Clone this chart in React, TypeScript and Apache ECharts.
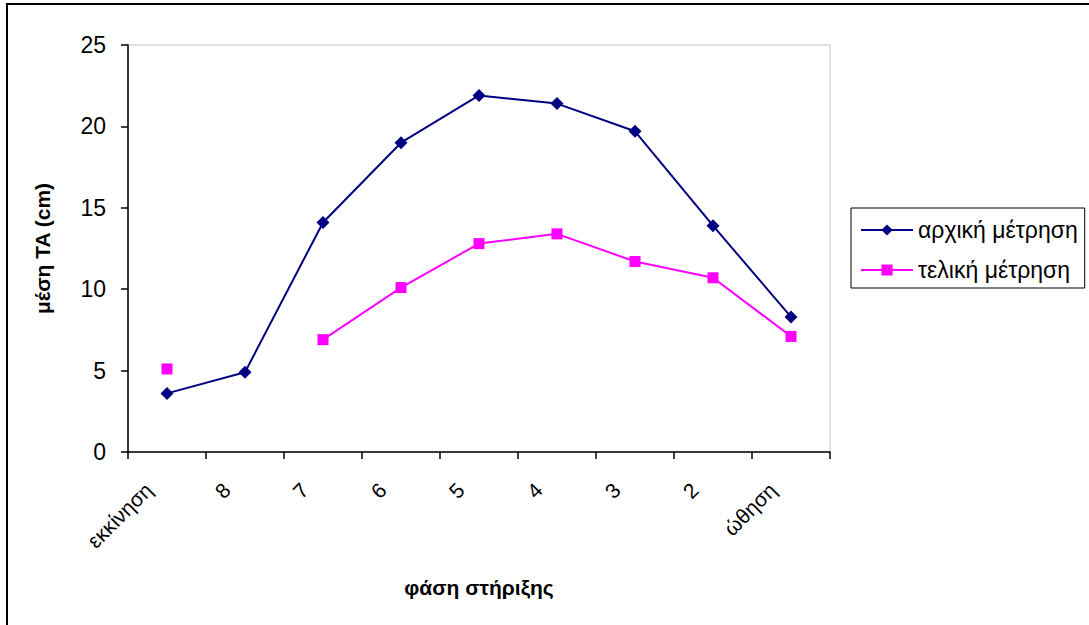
import React, { useEffect, useRef } from "react";
import * as echarts from "echarts";

const categories = ["εκκίνηση", "8", "7", "6", "5", "4", "3", "2", "ώθηση"];
const initialValues = [3.6, 4.9, 14.1, 19.0, 21.9, 21.4, 19.7, 13.9, 8.3];
const finalValues: (number | null)[] = [5.1, null, 6.9, 10.1, 12.8, 13.4, 11.7, 10.7, 7.1];
const seriesNames = ["αρχική μέτρηση", "τελική μέτρηση"];
const yTitle = "μέση TA (cm)";
const xTitle = "φάση στήριξης";

const FONT = "'Liberation Sans', Arial, sans-serif";

export default function App() {
  const ref = useRef<HTMLDivElement>(null);
  useEffect(() => {
    if (!ref.current) return;
    const chart = echarts.init(ref.current, undefined, { renderer: "svg" });
    chart.setOption({
      animation: false,
      backgroundColor: "#ffffff",
      textStyle: { fontFamily: FONT, color: "#000" },
      graphic: [
        {
          type: "rect",
          shape: { x: 7, y: 4, width: 1200, height: 800 },
          style: { fill: "none", stroke: "#000", lineWidth: 2 },
          silent: true,
        },
      ],
      grid: {
        left: 128,
        top: 45,
        width: 702,
        height: 407,
        show: true,
        borderColor: "#c0c0c0",
        borderWidth: 1,
        backgroundColor: "transparent",
      },
      legend: {
        orient: "vertical",
        left: 851,
        top: 208,
        borderColor: "#000",
        borderWidth: 1,
        padding: [10, 7, 6, 9],
        itemWidth: 52,
        itemHeight: 14,
        itemGap: 16,
        textStyle: { fontFamily: FONT, fontSize: 23, color: "#000", lineHeight: 24 },
        data: seriesNames,
      },
      xAxis: {
        type: "category",
        data: categories,
        boundaryGap: true,
        name: xTitle,
        nameLocation: "middle",
        nameGap: 125,
        nameTextStyle: { fontFamily: FONT, fontSize: 21, fontWeight: "bold", color: "#000" },
        axisLine: { lineStyle: { color: "#000", width: 1.5 } },
        axisTick: { show: true, length: 7, alignWithLabel: false, lineStyle: { color: "#000", width: 1.5 } },
        axisLabel: {
          interval: 0,
          rotate: 45,
          margin: 16,
          padding: [0, 26, 0, 0],
          fontFamily: FONT,
          fontSize: 21,
          color: "#000",
        },
        splitLine: { show: false },
      },
      yAxis: {
        type: "value",
        min: 0,
        max: 25,
        interval: 5,
        name: yTitle,
        nameLocation: "middle",
        nameGap: 75,
        nameTextStyle: { fontFamily: FONT, fontSize: 21, fontWeight: "bold", color: "#000" },
        axisLine: { show: true, lineStyle: { color: "#000", width: 1.5 } },
        axisTick: { show: true, length: 7, lineStyle: { color: "#000", width: 1.5 } },
        axisLabel: { margin: 22, fontFamily: FONT, fontSize: 23, color: "#000" },
        splitLine: { show: false },
      },
      series: [
        {
          name: seriesNames[0],
          type: "line",
          data: initialValues,
          symbol: "diamond",
          symbolSize: 13,
          lineStyle: { color: "#000080", width: 2 },
          itemStyle: { color: "#000080" },
        },
        {
          name: seriesNames[1],
          type: "line",
          data: finalValues,
          connectNulls: false,
          symbol: "rect",
          symbolSize: 11,
          lineStyle: { color: "#ff00ff", width: 2 },
          itemStyle: { color: "#ff00ff" },
        },
      ],
    });
    return () => chart.dispose();
  }, []);
  return (
    <div
      ref={ref}
      style={{ position: "absolute", left: 0, top: 0, width: 1089, height: 625 }}
    />
  );
}
